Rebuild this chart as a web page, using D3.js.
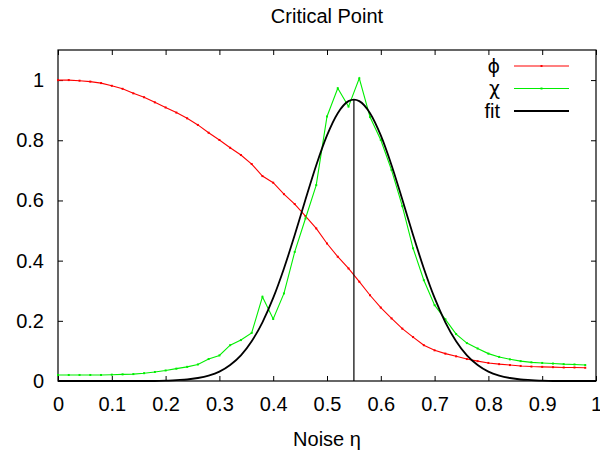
<!DOCTYPE html>
<html lang="en">
<head>
    <meta charset="UTF-8">
    <title>Critical Point</title>
    <script src="https://d3js.org/d3.v7.min.js"></script>
    <style>
        body { margin: 0; background: #fff; }
        svg { display: block; font-family: "Liberation Sans", Arial, sans-serif; }
        .tick text { font-size: 20px; fill: #000; }
        .label { font-size: 20px; fill: #000; }
        .greek { font-family: "DejaVu Sans", sans-serif; font-size: 19px; }
    </style>
</head>
<body>
    <svg width="600" height="452"></svg>

    <script>
        // noise values (x) shared by both measured series
        const eta = [0.00, 0.02, 0.04, 0.06, 0.08, 0.10, 0.12, 0.14, 0.16, 0.18,
                     0.20, 0.22, 0.24, 0.26, 0.28, 0.30, 0.32, 0.34, 0.36, 0.38,
                     0.40, 0.42, 0.44, 0.46, 0.48, 0.50, 0.52, 0.54, 0.56, 0.58,
                     0.60, 0.62, 0.64, 0.66, 0.68, 0.70, 0.72, 0.74, 0.76, 0.78,
                     0.80, 0.82, 0.84, 0.86, 0.88, 0.90, 0.92, 0.94, 0.96, 0.98];

        // order parameter phi
        const phi = [1.000, 1.000, 0.998, 0.995, 0.990, 0.981, 0.971, 0.956, 0.943, 0.926,
                     0.909, 0.892, 0.873, 0.851, 0.825, 0.801, 0.775, 0.751, 0.721, 0.681,
                     0.659, 0.621, 0.588, 0.548, 0.507, 0.457, 0.413, 0.374, 0.330, 0.285,
                     0.244, 0.208, 0.174, 0.146, 0.119, 0.102, 0.091, 0.082, 0.073, 0.066,
                     0.060, 0.056, 0.053, 0.050, 0.048, 0.047, 0.046, 0.045, 0.045, 0.044];

        // susceptibility chi
        const chi = [0.020, 0.020, 0.020, 0.020, 0.020, 0.021, 0.022, 0.023, 0.026, 0.030,
                     0.035, 0.041, 0.047, 0.055, 0.073, 0.085, 0.119, 0.136, 0.160, 0.280,
                     0.206, 0.291, 0.429, 0.540, 0.651, 0.879, 0.973, 0.912, 1.006, 0.877,
                     0.801, 0.701, 0.581, 0.441, 0.335, 0.252, 0.205, 0.156, 0.126, 0.108,
                     0.091, 0.080, 0.072, 0.066, 0.062, 0.060, 0.058, 0.056, 0.055, 0.053];

        // fit curve
        const fitEta = [0.00, 0.10, 0.18, 0.20, 0.22, 0.24, 0.26, 0.28, 0.30, 0.32, 0.34, 0.36, 0.38,
                        0.40, 0.42, 0.44, 0.46, 0.48, 0.50, 0.52, 0.54, 0.55, 0.56, 0.58,
                        0.60, 0.62, 0.64, 0.66, 0.68, 0.70, 0.72, 0.74, 0.76, 0.78,
                        0.80, 0.82, 0.84, 0.86, 0.88, 0.90, 0.92, 1.00];
        const fitVal = [0.000, 0.000, 0.000, 0.001, 0.003, 0.005, 0.010, 0.018, 0.031, 0.053, 0.085, 0.132, 0.195,
                        0.276, 0.374, 0.485, 0.603, 0.717, 0.816, 0.890, 0.930, 0.935, 0.930, 0.890,
                        0.816, 0.717, 0.603, 0.485, 0.374, 0.276, 0.195, 0.132, 0.085, 0.053,
                        0.031, 0.018, 0.010, 0.005, 0.003, 0.001, 0.000, 0.000];

        // critical point marker
        const peakEta = 0.55, peakVal = 0.935;

        const xTicks = [0, 0.1, 0.2, 0.3, 0.4, 0.5, 0.6, 0.7, 0.8, 0.9, 1];
        const yTicks = [0, 0.2, 0.4, 0.6, 0.8, 1];

        const margin = { top: 50, right: 4, bottom: 71, left: 58 };
        const width = 600 - margin.left - margin.right;
        const height = 452 - margin.top - margin.bottom;

        const svg = d3.select("svg");
        const g = svg.append("g").attr("transform", `translate(${margin.left},${margin.top})`);

        const x = d3.scaleLinear().domain([0, 1]).range([0, width]);
        const y = d3.scaleLinear().domain([0, 1.1]).range([height, 0]);

        // axes: ticks point inward, mirrored on top and right
        const fmt = d => String(d);
        const styleAxis = sel => {
            sel.select(".domain").remove();
            sel.selectAll(".tick line").attr("stroke", "#000");
        };
        g.append("g").attr("transform", `translate(0,${height})`)
            .call(d3.axisBottom(x).tickValues(xTicks).tickFormat(fmt).tickSizeInner(-5).tickSizeOuter(0).tickPadding(16))
            .call(styleAxis);
        g.append("g")
            .call(d3.axisTop(x).tickValues(xTicks).tickFormat("").tickSizeInner(-5).tickSizeOuter(0))
            .call(styleAxis);
        g.append("g")
            .call(d3.axisLeft(y).tickValues(yTicks).tickFormat(fmt).tickSizeInner(-5).tickSizeOuter(0).tickPadding(14))
            .call(styleAxis);
        g.append("g").attr("transform", `translate(${width},0)`)
            .call(d3.axisRight(y).tickValues(yTicks).tickFormat("").tickSizeInner(-5).tickSizeOuter(0))
            .call(styleAxis);
        g.selectAll(".tick text").attr("font-family", null).attr("font-size", null);

        g.append("rect")
            .attr("width", width).attr("height", height)
            .attr("fill", "none").attr("stroke", "#000").attr("stroke-width", 1.2);

        const line = d3.line().x(d => x(d[0])).y(d => y(d[1]));

        const series = [
            { name: "ϕ", color: "#ff0000", values: eta.map((e, i) => [e, phi[i]]) },
            { name: "χ", color: "#00ee00", values: eta.map((e, i) => [e, chi[i]]) }
        ];

        series.forEach(s => {
            g.append("path")
                .attr("d", line(s.values))
                .attr("fill", "none").attr("stroke", s.color).attr("stroke-width", 1.1);
            g.selectAll(null).data(s.values).enter().append("rect")
                .attr("x", d => x(d[0]) - 1).attr("y", d => y(d[1]) - 1)
                .attr("width", 2).attr("height", 2)
                .attr("fill", s.color);
        });

        // fit line (smooth)
        const fitLine = d3.line().curve(d3.curveMonotoneX).x(d => x(d[0])).y(d => y(d[1]));
        g.append("path")
            .attr("d", fitLine(fitEta.map((e, i) => [e, fitVal[i]])))
            .attr("fill", "none").attr("stroke", "#000").attr("stroke-width", 1.8);

        // vertical line at the peak
        g.append("line")
            .attr("x1", x(peakEta)).attr("x2", x(peakEta))
            .attr("y1", y(0)).attr("y2", y(peakVal))
            .attr("stroke", "#000").attr("stroke-width", 1.2);

        // legend
        const legend = [
            { name: "ϕ", color: "#ff0000", w: 1.1, dot: true, greek: true },
            { name: "χ", color: "#00ee00", w: 1.1, dot: true, greek: true },
            { name: "fit", color: "#000", w: 1.8, dot: false, greek: false }
        ];
        const lg = svg.append("g");
        legend.forEach((d, i) => {
            const ly = 66 + i * 22.5;
            lg.append("text").attr("class", d.greek ? "label greek" : "label")
                .attr("x", 500).attr("y", ly).attr("dy", "0.35em")
                .attr("text-anchor", "end").text(d.name);
            lg.append("line")
                .attr("x1", 514).attr("x2", 569).attr("y1", ly).attr("y2", ly)
                .attr("stroke", d.color).attr("stroke-width", d.w);
            if (d.dot) {
                lg.append("rect").attr("x", 540.5).attr("y", ly - 1).attr("width", 2).attr("height", 2).attr("fill", d.color);
            }
        });

        // title and axis label
        svg.append("text").attr("class", "label")
            .attr("x", 327).attr("y", 23).attr("text-anchor", "middle")
            .text("Critical Point");
        svg.append("text").attr("class", "label")
            .attr("x", 327).attr("y", 446).attr("text-anchor", "middle")
            .text("Noise η");
    </script>
</body>
</html>
